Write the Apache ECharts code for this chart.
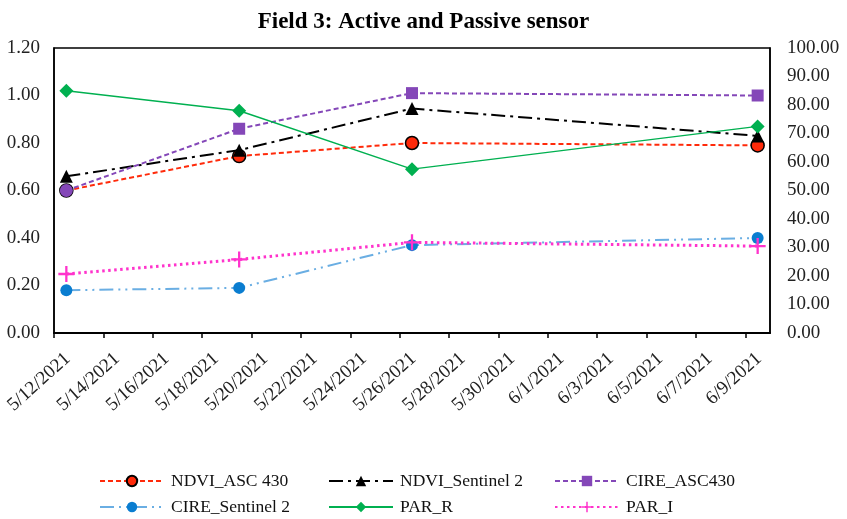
<!DOCTYPE html>
<html>
<head>
<meta charset="utf-8">
<script src="https://cdn.jsdelivr.net/npm/echarts@6/dist/echarts.min.js"></script>
<style>
  html, body { margin: 0; padding: 0; background: #fff; }
  #chart { width: 847px; height: 519px; }
</style>
</head>
<body>
<div id="chart"></div>
<script>
// Observation dates (M/D/YYYY)
const dates = ['5/12/2021', '5/19/2021', '5/26/2021', '6/9/2021'];

// Vegetation indices (left axis)
const ndviAsc430 = [0.60, 0.745, 0.80, 0.79];
const ndviSentinel2 = [0.66, 0.77, 0.945, 0.83];
const cireAsc430 = [0.60, 0.86, 1.01, 1.00];
const cireSentinel2 = [0.18, 0.19, 0.37, 0.40];

// PAR values (right axis)
const parR = [85.0, 78.0, 57.5, 72.5];
const parI = [20.7, 25.8, 31.8, 30.5];

// Axis ranges
const axisStartDate = '5/12/2021';
const axisDays = 29;
const dayStep = 2;
const leftMax = 1.2, leftStep = 0.2;
const rightMax = 100, rightStep = 10;

function parseDate(s) {
  const [m, d, y] = s.split('/').map(Number);
  return Date.UTC(y, m - 1, d);
}
const t0 = parseDate(axisStartDate);
const DAY = 86400000;
// Points sit in the middle of their day slot
const xs = dates.map(d => (parseDate(d) - t0) / DAY + 0.5);

function dayLabel(v) {
  if (Math.abs(v - Math.round(v)) > 1e-6) return '';
  const k = Math.round(v);
  if (k % dayStep !== 0 || k >= axisDays) return '';
  const dt = new Date(t0 + k * DAY);
  return (dt.getUTCMonth() + 1) + '/' + dt.getUTCDate() + '/' + dt.getUTCFullYear();
}

const pairs = arr => arr.map((v, i) => [xs[i], v]);

const serif = '"Liberation Serif", "Times New Roman", serif';
const plusPath = 'path://M-1,-7H1V-1H7V1H1V7H-1V1H-7V-1H-1Z';

const chart = echarts.init(document.getElementById('chart'), null, { renderer: 'canvas' });

const legendCols = [99, 328, 554];
const legendRows = [472, 498];
const names = ['NDVI_ASC 430', 'NDVI_Sentinel 2', 'CIRE_ASC430', 'CIRE_Sentinel 2', 'PAR_R', 'PAR_I'];
const legends = names.map((n, i) => ({
  data: [n],
  left: legendCols[i % 3],
  top: legendRows[Math.floor(i / 3)],
  padding: 0,
  itemWidth: 64,
  itemHeight: 13,
  itemGap: 0,
  textStyle: { fontFamily: serif, fontSize: 17.5, color: '#111', padding: [0, 0, 0, 2] }
}));

const cireAscData = pairs(cireAsc430).map((p, i) =>
  i === 0 ? { value: p, symbol: 'circle', symbolSize: 13 } : p);

chart.setOption({
  animation: false,
  backgroundColor: '#fff',
  title: {
    text: 'Field 3: Active and Passive sensor',
    left: 'center',
    top: 6,
    textStyle: { fontFamily: serif, fontSize: 23, fontWeight: 'bold', color: '#000' }
  },
  legend: legends,
  grid: {
    left: 54, right: 77, top: 48, bottom: 186,
    show: true, borderColor: '#000', borderWidth: 1.5
  },
  xAxis: {
    type: 'value',
    min: 0, max: axisDays, interval: dayStep,
    axisLine: { show: true, lineStyle: { color: '#000', width: 2 } },
    axisTick: { show: true, inside: false, length: 5, lineStyle: { color: '#000', width: 1.5 } },
    splitLine: { show: false },
    axisLabel: {
      rotate: 42, margin: 8,
      verticalAlign: 'top',
      padding: [11, 0, 0, 0],
      fontFamily: serif, fontSize: 19, color: '#222',
      formatter: dayLabel,
      showMaxLabel: false
    }
  },
  yAxis: [
    {
      type: 'value', min: 0, max: leftMax, interval: leftStep,
      axisLine: { show: true, lineStyle: { color: '#000', width: 1.5 } },
      axisTick: { show: false },
      splitLine: { show: false },
      axisLabel: { fontFamily: serif, fontSize: 19, color: '#222', margin: 14,
        formatter: v => v.toFixed(2) }
    },
    {
      type: 'value', min: 0, max: rightMax, interval: rightStep,
      position: 'right',
      axisLine: { show: true, lineStyle: { color: '#000', width: 1.5 } },
      axisTick: { show: false },
      splitLine: { show: false },
      axisLabel: { fontFamily: serif, fontSize: 19, color: '#222', margin: 17,
        formatter: v => v.toFixed(2) }
    }
  ],
  series: [
    {
      name: 'NDVI_ASC 430', type: 'line', yAxisIndex: 0,
      data: pairs(ndviAsc430),
      symbol: 'circle', symbolSize: 13,
      lineStyle: { color: '#FF2A0A', width: 2, type: [5, 3] },
      itemStyle: { color: '#FF2A0A', borderColor: '#000', borderWidth: 1.5 }
    },
    {
      name: 'NDVI_Sentinel 2', type: 'line', yAxisIndex: 0,
      data: pairs(ndviSentinel2),
      symbol: 'triangle', symbolSize: 13,
      lineStyle: { color: '#000', width: 2, type: [14, 5, 3, 5] },
      itemStyle: { color: '#000' }
    },
    {
      name: 'CIRE_ASC430', type: 'line', yAxisIndex: 0,
      data: cireAscData,
      symbol: 'rect', symbolSize: 12,
      lineStyle: { color: '#8447B8', width: 2, type: [5, 3] },
      itemStyle: { color: '#8447B8' }
    },
    {
      name: 'CIRE_Sentinel 2', type: 'line', yAxisIndex: 0,
      data: pairs(cireSentinel2),
      symbol: 'circle', symbolSize: 12,
      lineStyle: { color: '#6AAEE3', width: 2, type: [14, 5, 2, 5, 2, 5] },
      itemStyle: { color: '#0A7DD0' }
    },
    {
      name: 'PAR_R', type: 'line', yAxisIndex: 1,
      data: pairs(parR),
      symbol: 'diamond', symbolSize: 14,
      lineStyle: { color: '#00B050', width: 1.5, type: 'solid' },
      itemStyle: { color: '#00B050' }
    },
    {
      name: 'PAR_I', type: 'line', yAxisIndex: 1,
      data: pairs(parI),
      symbol: plusPath, symbolSize: 16,
      lineStyle: { color: '#FF33CC', width: 3, type: [2.5, 3.5] },
      itemStyle: { color: '#FF33CC' }
    }
  ]
});
</script>
</body>
</html>
